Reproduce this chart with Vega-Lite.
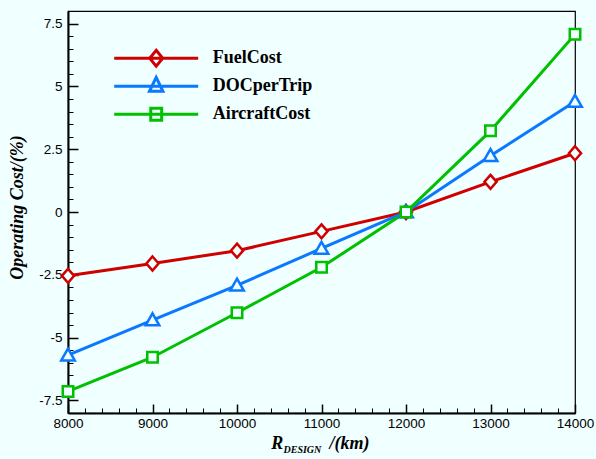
{
  "$schema": "https://vega.github.io/schema/vega-lite/v6.json",
  "width": 507,
  "height": 402,
  "autosize": {"type": "none"},
  "padding": {"left": 68, "top": 11, "right": 21, "bottom": 46},
  "background": "#f0ffff",
  "config": {
    "view": {"stroke": "black", "strokeWidth": 1.2, "fill": "#f0ffff"},
    "axis": {"grid": false, "labelFont": "Liberation Sans", "labelFontSize": 13.5, "labelColor": "black", "tickColor": "black", "domainColor": "black", "titleColor": "black", "titleFont": "Liberation Serif", "titleFontWeight": "bold", "titleFontStyle": "italic"}
  },
  "data": {
    "values": [
      {"range": 8000, "series": "FuelCost", "cost": -2.54},
      {"range": 9000, "series": "FuelCost", "cost": -2.05},
      {"range": 10000, "series": "FuelCost", "cost": -1.54},
      {"range": 11000, "series": "FuelCost", "cost": -0.77},
      {"range": 12000, "series": "FuelCost", "cost": 0},
      {"range": 13000, "series": "FuelCost", "cost": 1.2},
      {"range": 14000, "series": "FuelCost", "cost": 2.34},
      {"range": 8000, "series": "DOCperTrip", "cost": -5.7},
      {"range": 9000, "series": "DOCperTrip", "cost": -4.3},
      {"range": 10000, "series": "DOCperTrip", "cost": -2.92},
      {"range": 11000, "series": "DOCperTrip", "cost": -1.45},
      {"range": 12000, "series": "DOCperTrip", "cost": 0},
      {"range": 13000, "series": "DOCperTrip", "cost": 2.24},
      {"range": 14000, "series": "DOCperTrip", "cost": 4.4},
      {"range": 8000, "series": "AircraftCost", "cost": -7.14},
      {"range": 9000, "series": "AircraftCost", "cost": -5.78},
      {"range": 10000, "series": "AircraftCost", "cost": -4.01},
      {"range": 11000, "series": "AircraftCost", "cost": -2.2},
      {"range": 12000, "series": "AircraftCost", "cost": 0},
      {"range": 13000, "series": "AircraftCost", "cost": 3.23},
      {"range": 14000, "series": "AircraftCost", "cost": 7.07}
    ]
  },
  "layer": [
    {
      "mark": {"type": "line", "strokeWidth": 3},
      "encoding": {
        "x": {
          "field": "range", "type": "quantitative",
          "scale": {"domain": [8000, 14000], "nice": false, "zero": false},
          "axis": {
            "orient": "bottom",
            "values": [8000,8200,8400,8600,8800,9000,9200,9400,9600,9800,10000,10200,10400,10600,10800,11000,11200,11400,11600,11800,12000,12200,12400,12600,12800,13000,13200,13400,13600,13800,14000],
            "labelExpr": "datum.value % 1000 === 0 ? '' + datum.value : ''",
            "labelOverlap": false, "labelFlush": false,
            "tickSize": -5, "tickWidth": 1, "labelPadding": 8,
            "domain": true, "domainWidth": 2,
            "title": "R",
            "titleFontSize": 18, "titleAlign": "left", "titleBaseline": "alphabetic", "titleX": 202.7, "titleY": 35
          }
        },
        "y": {
          "field": "cost", "type": "quantitative",
          "scale": {"domain": [-8, 8], "nice": false, "zero": false},
          "axis": {
            "values": [-8,-7.5,-7,-6.5,-6,-5.5,-5,-4.5,-4,-3.5,-3,-2.5,-2,-1.5,-1,-0.5,0,0.5,1,1.5,2,2.5,3,3.5,4,4.5,5,5.5,6,6.5,7,7.5,8],
            "labelExpr": "datum.value % 2.5 === 0 && abs(datum.value) < 8 ? '' + datum.value : ''",
            "labelOverlap": false, "labelFlush": false,
            "tickSize": -5, "tickWidth": 1, "labelPadding": 11,
            "domain": true, "domainWidth": 2,
            "title": "Operating Cost/(%)",
            "titleFontSize": 18, "titleAngle": -90, "titleAlign": "center", "titleBaseline": "alphabetic", "titleX": -45.7, "titleY": 196
          }
        },
        "color": {
          "field": "series", "type": "nominal",
          "scale": {"domain": ["FuelCost", "DOCperTrip", "AircraftCost"], "range": ["#d00000", "#0a78ff", "#00c000"]},
          "legend": {
            "title": null, "orient": "none", "legendX": 44.7, "legendY": 33.5,
            "padding": 0, "rowPadding": 0, "clipHeight": 27.5,
            "symbolSize": 7056, "symbolStrokeWidth": 3, "symbolOffset": 0,
            "labelFont": "Liberation Serif", "labelFontWeight": "bold", "labelFontSize": 18, "labelColor": "black", "labelOffset": 13,
            "encoding": {
              "symbols": {
                "shape": {"value": {"signal": "datum.value === 'FuelCost' ? 'M-1,0L1,0M0,-0.19L0.155,0L0,0.19L-0.155,0Z' : datum.value === 'DOCperTrip' ? 'M-1,0L1,0M0,-0.21L0.16,0.12L-0.16,0.12Z' : 'M-1,0L1,0M-0.13,-0.14L0.13,-0.14L0.13,0.14L-0.13,0.14Z'"}}
              }
            }
          }
        }
      }
    },
    {
      "mark": {"type": "point", "filled": false, "fill": "#f0ffff", "fillOpacity": 1, "opacity": 1, "strokeWidth": 2.5, "size": 196},
      "encoding": {
        "x": {
          "field": "range", "type": "quantitative",
          "axis": {
            "orient": "bottom",
            "values": [8000, 9000, 10000, 11000, 12000, 13000, 14000],
            "labels": false, "domain": false, "ticks": true, "tickSize": -9, "tickWidth": 1.5,
            "title": "DESIGN", "titleFontSize": 10, "titleAlign": "left", "titleBaseline": "alphabetic", "titleX": 215, "titleY": 39
          }
        },
        "y": {
          "field": "cost", "type": "quantitative",
          "axis": {
            "orient": "left",
            "values": [-7.5, -5, -2.5, 0, 2.5, 5, 7.5],
            "labels": false, "domain": false, "ticks": true, "tickSize": -10, "tickWidth": 1.5,
            "title": "/(km)", "titleFontSize": 18, "titleAngle": 0, "titleAlign": "left", "titleBaseline": "alphabetic", "titleX": 261, "titleY": 437
          }
        },
        "color": {"field": "series", "type": "nominal", "legend": null},
        "shape": {
          "field": "series", "type": "nominal", "legend": null,
          "scale": {"domain": ["FuelCost", "DOCperTrip", "AircraftCost"], "range": ["M0,-1L0.87,0L0,1L-0.87,0Z", "M0,-0.95L0.97,0.75L-0.97,0.75Z", "M-0.75,-0.75L0.75,-0.75L0.75,0.75L-0.75,0.75Z"]}
        }
      }
    }
  ],
  "resolve": {"axis": {"x": "independent", "y": "independent"}, "legend": {"color": "independent", "shape": "independent"}}
}
